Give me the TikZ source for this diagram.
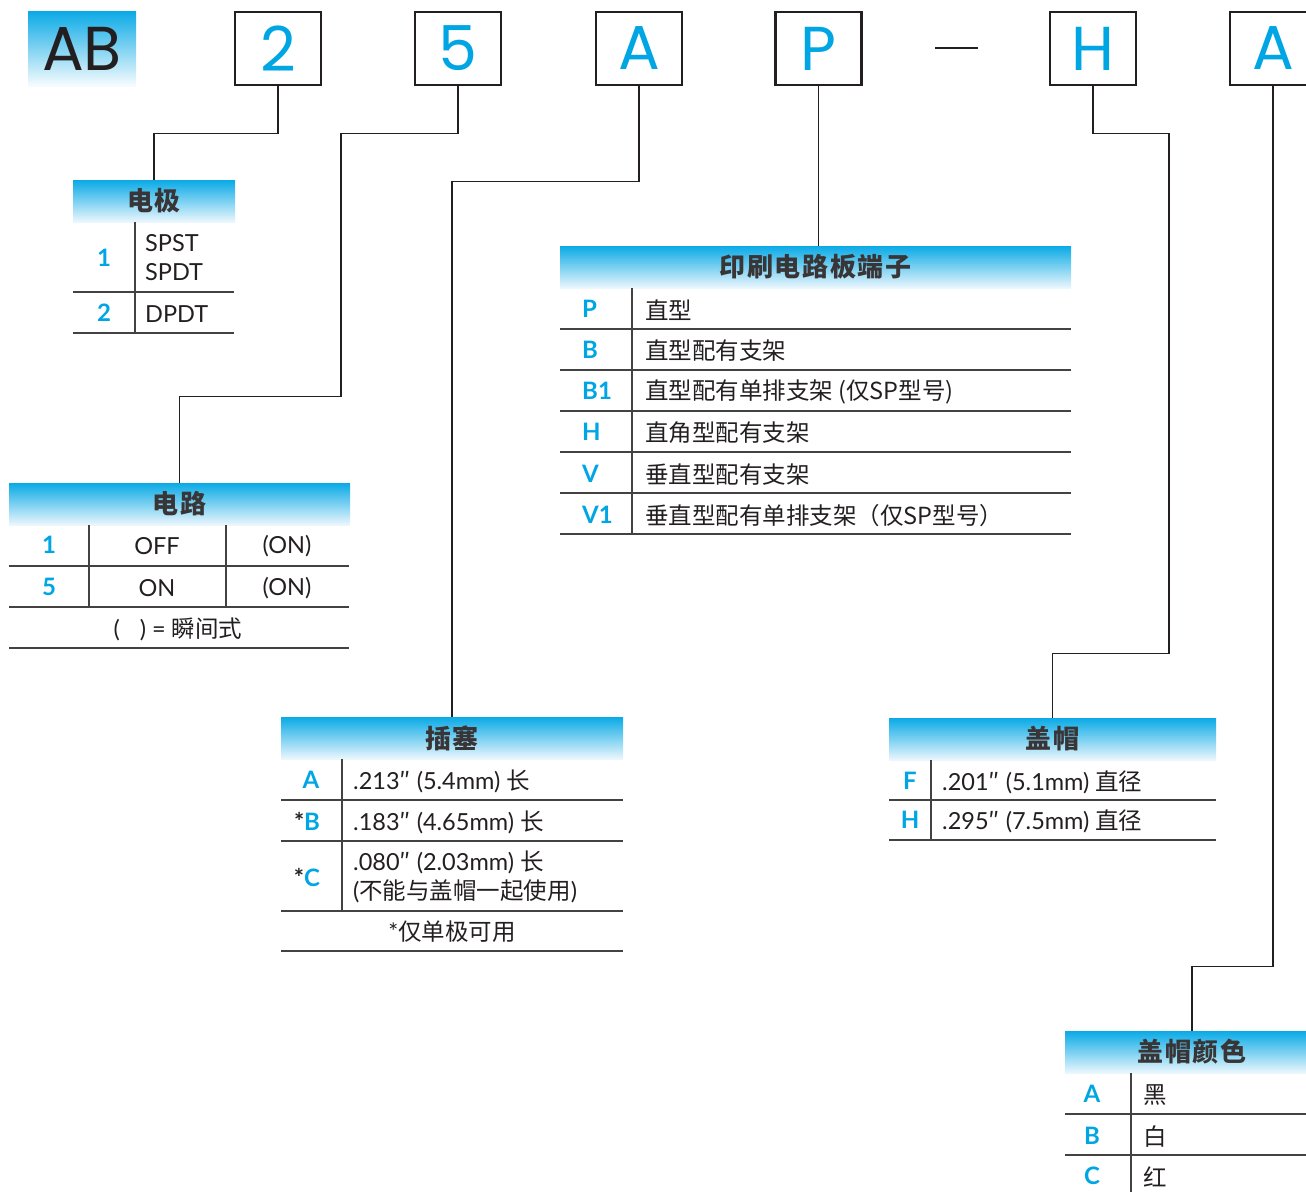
\documentclass[tikz,border=0pt]{standalone}
\usepackage{fontspec}
\setmainfont{Lato}
\newfontfamily\zh{Noto Sans CJK SC}
\newfontfamily\bigfont{Poppins}
\usepackage{tikz}
\usetikzlibrary{calc}

\definecolor{keyblue}{RGB}{0,166,228}
\definecolor{headtop}{RGB}{10,170,230}
\definecolor{headbot}{RGB}{236,247,253}
\definecolor{ink}{RGB}{35,31,32}

\tikzset{
  keybox/.style={draw=ink, line width=2.6pt, minimum width=86, minimum height=73, inner sep=0pt,
    font=\bigfont\fontsize{62}{62}\selectfont, text=keyblue},
  tabhead/.style={top color=headtop, bottom color=headbot, minimum height=42, inner sep=0pt,
    font=\zh\bfseries\fontsize{26}{26}\selectfont\addfontfeature{LetterSpace=6}, text=ink!90},
  keytxt/.style={font=\bfseries\fontsize{24}{24}\selectfont, text=keyblue, inner sep=0pt},
  celltxt/.style={font=\fontsize{23.5}{29}\selectfont, text=ink, anchor=west, inner sep=0pt, align=left},
  midtxt/.style={font=\fontsize{23.5}{29}\selectfont, text=ink, inner sep=0pt},
  rule/.style={draw=ink!85, line width=1.6pt},
  link/.style={draw=ink, line width=1.4pt},
}
\newcommand{\zhc}[1]{{\zh\fontsize{23.5}{29}\selectfont #1}}
\newcommand{\inch}{{\zh ″}}
\newcommand{\onlymark}{\textcolor{ink}{*}}

\begin{document}
\begin{tikzpicture}[x=1pt, y=-1pt]
    \useasboundingbox (0,0) rectangle (1306,1192);
    \clip (0,0) rectangle (1306,1192);
    % code letters
    \node[top color=headtop, bottom color=headbot!40!white, minimum width=108, minimum height=75,
      inner sep=0pt, font=\bigfont\fontsize{62}{62}\selectfont, text=ink] (ab) at (82,48.5) {AB};
    \node[keybox] (b2) at (278,48.5) {2};
    \node[keybox] (b5) at (458,48.5) {5};
    \node[keybox] (bA) at (639,48.5) {A};
    \node[keybox] (bP) at (818.5,48.5) {P};
    \draw[ink, line width=2.6pt] (935,48) -- (978,48);
    \node[keybox] (bH) at (1093,48.5) {H};
    \node[keybox] (bA2) at (1273,48.5) {A};

    % table headers
    \node[tabhead, minimum width=162] (hPole) at (154,201) {电极};
    \node[tabhead, minimum width=341] (hCircuit) at (179.5,504) {电路};
    \node[tabhead, minimum width=511] (hPCB) at (815.5,267) {印刷电路板端子};
    \node[tabhead, minimum width=342] (hPlug) at (452,738) {插塞};
    \node[tabhead, minimum width=327] (hCap) at (1052.5,739) {盖帽};
    \node[tabhead, minimum width=254] (hColor) at (1192,1052) {盖帽颜色};

    % connectors
    \draw[link] (b2.south) -- ++(0,47) -| (hPole.north);
    \draw[link] (b5.south) -- ++(0,47) -| ++(-117,263) -| (hCircuit.north);
    \draw[link] (bA.south) -- ++(0,95) -| (hPlug.north);
    \draw[link] (bP.south) -- (bP.south |- hPCB.north);
    \draw[link] (bH.south) -- ++(0,47) -| ++(76,520) -| (hCap.north);
    \draw[link] (bA2.south) -- ++(0,880) -| (hColor.north);

    % pole
    \draw[rule] (135,222) -- (135,333);
    \draw[rule] (73,292) -- (234,292);
    \draw[rule] (73,333) -- (234,333);
    \node[keytxt] (pole1) at (104,258) {1};
    \node[celltxt] (pole1t) at (145,258) {SPST\\SPDT};
    \node[keytxt] (pole2) at (104,313) {2};
    \node[celltxt] (pole2t) at (145,314) {DPDT};

    % circuit
    \draw[rule] (89,525) -- (89,607);
    \draw[rule] (226,525) -- (226,607);
    \draw[rule] (9,566) -- (349,566);
    \draw[rule] (9,607) -- (349,607);
    \draw[rule] (9,648) -- (349,648);
    \node[keytxt] (circ1) at (49,545) {1};
    \node[midtxt] (circ1a) at (157,546) {OFF};
    \node[midtxt] (circ1b) at (287,546) {(ON)};
    \node[keytxt] (circ5) at (49,587) {5};
    \node[midtxt] (circ5a) at (157,588) {ON};
    \node[midtxt] (circ5b) at (287,588) {(ON)};
    \node[midtxt] (circnote) at (178,629) {(\hspace{20pt}) = \zhc{瞬间式}};

    % pcb terminals
    \draw[rule] (632,288) -- (632,534);
    \draw[rule] (560,329) -- (1071,329);
    \draw[rule] (560,370) -- (1071,370);
    \draw[rule] (560,411) -- (1071,411);
    \draw[rule] (560,452) -- (1071,452);
    \draw[rule] (560,493) -- (1071,493);
    \draw[rule] (560,534) -- (1071,534);
    \node[keytxt, anchor=west] (pcbP) at (582,309) {P};
    \node[keytxt, anchor=west] (pcbB) at (582,350) {B};
    \node[keytxt, anchor=west] (pcbB1) at (582,391) {B1};
    \node[keytxt, anchor=west] (pcbH) at (582,432) {H};
    \node[keytxt, anchor=west] (pcbV) at (582,474) {V};
    \node[keytxt, anchor=west] (pcbV1) at (582,515) {V1};
    \node[celltxt] (pcbPt) at (645,310) {\zhc{直型}};
    \node[celltxt] (pcbBt) at (645,351) {\zhc{直型配有支架}};
    \node[celltxt] (pcbB1t) at (645,392) {\zhc{直型配有单排支架 (仅SP型号)}};
    \node[celltxt] (pcbHt) at (645,433) {\zhc{直角型配有支架}};
    \node[celltxt] (pcbVt) at (645,475) {\zhc{垂直型配有支架}};
    \node[celltxt] (pcbV1t) at (645,516) {\zhc{垂直型配有单排支架（仅SP型号）}};

    % plunger
    \draw[rule] (342,759) -- (342,911);
    \draw[rule] (281,800) -- (623,800);
    \draw[rule] (281,841) -- (623,841);
    \draw[rule] (281,911) -- (623,911);
    \draw[rule] (281,951) -- (623,951);
    \node[keytxt] (plugA) at (311,780) {A};
    \node[keytxt] (plugB) at (307,821) {\onlymark B};
    \node[keytxt] (plugC) at (307,877) {\onlymark C};
    \node[celltxt] (plugAt) at (353,781) {.213\inch{} (5.4mm) \zhc{长}};
    \node[celltxt] (plugBt) at (353,822) {.183\inch{} (4.65mm) \zhc{长}};
    \node[celltxt] (plugCt) at (353,877) {.080\inch{} (2.03mm) \zhc{长}\\(\zhc{不能与盖帽一起使用})};
    \node[midtxt] (plugnote) at (452,932) {*\zhc{仅单极可用}};

    % cap
    \draw[rule] (931,760) -- (931,840);
    \draw[rule] (889,800) -- (1216,800);
    \draw[rule] (889,840) -- (1216,840);
    \node[keytxt] (capF) at (910,781) {F};
    \node[keytxt] (capH) at (910,820) {H};
    \node[celltxt] (capFt) at (942,782) {.201\inch{} (5.1mm) \zhc{直径}};
    \node[celltxt] (capHt) at (942,821) {.295\inch{} (7.5mm) \zhc{直径}};

    % cap colour
    \draw[rule] (1131,1073) -- (1131,1192);
    \draw[rule] (1065,1114) -- (1319,1114);
    \draw[rule] (1065,1155) -- (1319,1155);
    \node[keytxt] (colA) at (1092,1094) {A};
    \node[keytxt] (colB) at (1092,1136) {B};
    \node[keytxt] (colC) at (1092,1176) {C};
    \node[celltxt] (colAt) at (1143,1095) {\zhc{黑}};
    \node[celltxt] (colBt) at (1143,1137) {\zhc{白}};
    \node[celltxt] (colCt) at (1143,1177) {\zhc{红}};
\end{tikzpicture}
\end{document}
